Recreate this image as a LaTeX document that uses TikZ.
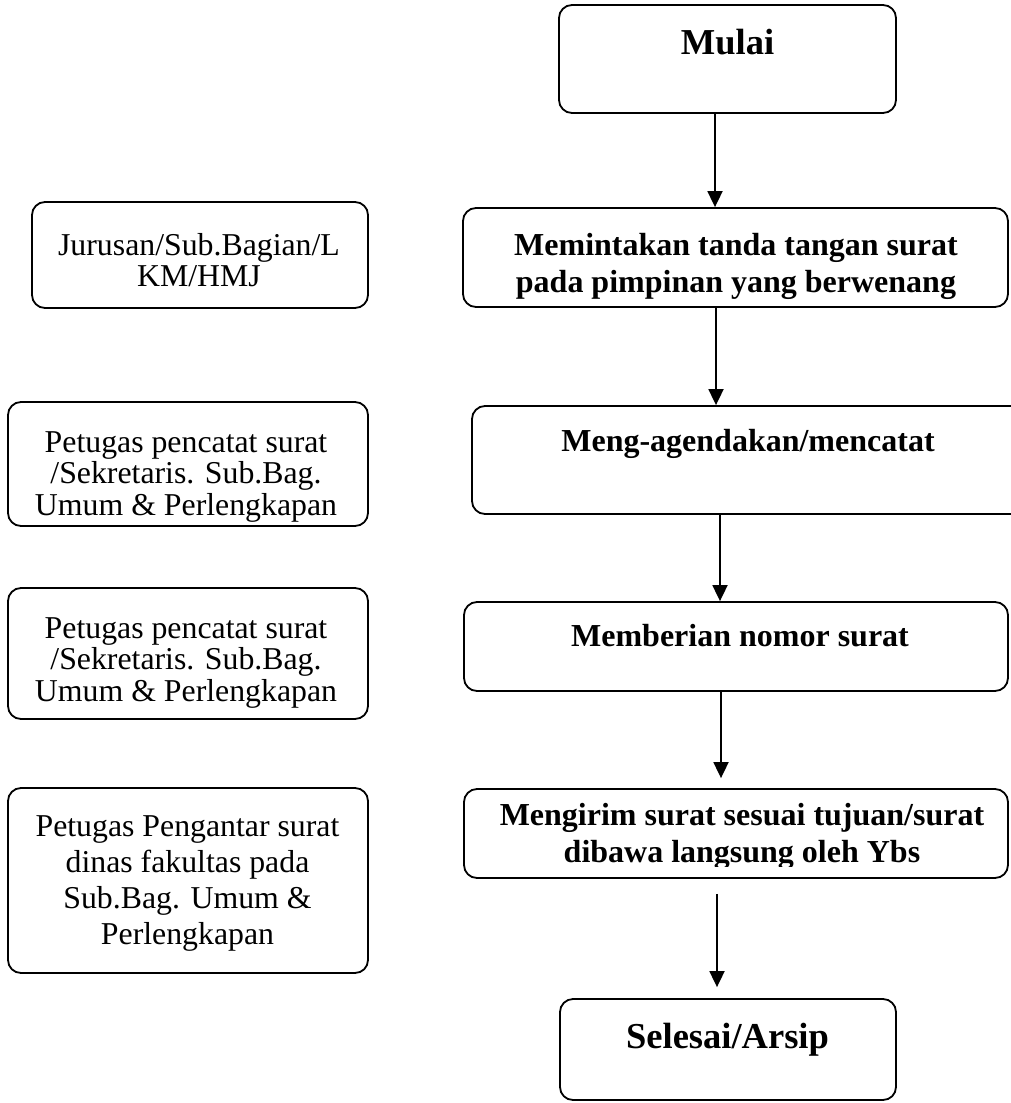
\documentclass[tikz,border=0pt]{standalone}
\usepackage{fontspec}
\setmainfont{Liberation Serif}
\usetikzlibrary{arrows.meta}

\begin{document}
\begin{tikzpicture}[x=1pt,y=-1pt,
  box/.style={draw, line width=1.8pt, rounded corners=13pt, inner sep=0pt},
  flow/.style={-{Triangle[width=15pt,length=16pt]}, line width=1.8pt},
  txt/.style={anchor=north, align=center, inner sep=0pt, font=\fontsize{31.8}{31.7}\selectfont},
  btxt/.style={anchor=north, align=center, inner sep=0pt, font=\bfseries\fontsize{32}{37}\selectfont},
  bigtxt/.style={anchor=north, inner sep=0pt, font=\bfseries\fontsize{36.5}{40}\selectfont}]
  \useasboundingbox (0,0) rectangle (1010,1103);

  % Start
  \node[box, minimum width=337pt, minimum height=108pt] (mulai) at (727.5,59) {};
  \node[bigtxt] (mulaitext) at (727.5,29) {Mulai};

  % Signing
  \node[box, minimum width=545pt, minimum height=99pt] (sign) at (735.5,257.5) {};
  \begin{scope}
    \clip (463,208) rectangle (1008,300);
    \node[btxt] (signtext) at (736,233) {Memintakan tanda tangan surat\\pada pimpinan yang berwenang};
  \end{scope}

  % Recording
  \node[box, minimum width=552pt, minimum height=108pt] (agenda) at (748,460) {};
  \node[btxt] (agendatext) at (748,429) {Meng-agendakan/mencatat};

  % Numbering
  \node[box, minimum width=544pt, minimum height=89pt] (nomor) at (736,646.5) {};
  \node[btxt] (nomortext) at (740,624) {Memberian nomor surat};

  % Sending
  \node[box, minimum width=544pt, minimum height=89pt] (kirim) at (736,833.5) {};
  \begin{scope}
    \clip (464,789) rectangle (1008,866);
    \node[btxt] (kirimtext) at (742,803) {Mengirim surat sesuai tujuan/surat\\dibawa langsung oleh Ybs};
  \end{scope}

  % End
  \node[box, minimum width=336pt, minimum height=101pt] (selesai) at (728,1049.5) {};
  \node[bigtxt] (selesaitext) at (727.5,1023) {Selesai/Arsip};

  % Flow
  \draw[flow] (mulai.south -| 715,0) -- (sign.north -| 715,0);
  \draw[flow] (sign.south -| 716,0) -- (agenda.north -| 716,0);
  \draw[flow] (agenda.south -| 720,0) -- (nomor.north -| 720,0);
  \draw[flow, shorten >=10pt] (nomor.south -| 721,0) -- (kirim.north -| 721,0);
  \draw[flow, shorten <=15pt, shorten >=11pt] (kirim.south -| 717,0) -- (selesai.north -| 717,0);

  % Actors
  \node[box, minimum width=336pt, minimum height=106pt] (jurusan) at (200,255) {};
  \node[txt] (jurusantext) at (199,233) {Jurusan/Sub.Bagian/L\\KM/HMJ};

  \node[box, minimum width=360pt, minimum height=124pt] (catat) at (188,464) {};
  \begin{scope}
    \clip (8,402) rectangle (368,522);
    \node[txt] (catattext) at (186,431) {Petugas pencatat surat\\/Sekretaris. Sub.Bag.\\Umum \& Perlengkapan};
  \end{scope}

  \node[box, minimum width=360pt, minimum height=131pt] (catatb) at (188,653.5) {};
  \begin{scope}
    \clip (8,588) rectangle (368,712);
    \node[txt] (catatbtext) at (186,617) {Petugas pencatat surat\\/Sekretaris. Sub.Bag.\\Umum \& Perlengkapan};
  \end{scope}

  \node[box, minimum width=360pt, minimum height=185pt] (antar) at (188,880.5) {};
  \node[txt, font=\fontsize{31.8}{36.2}\selectfont] (antartext) at (187.5,815) {Petugas Pengantar surat\\dinas fakultas pada\\Sub.Bag. Umum \&\\Perlengkapan};
\end{tikzpicture}
\end{document}
